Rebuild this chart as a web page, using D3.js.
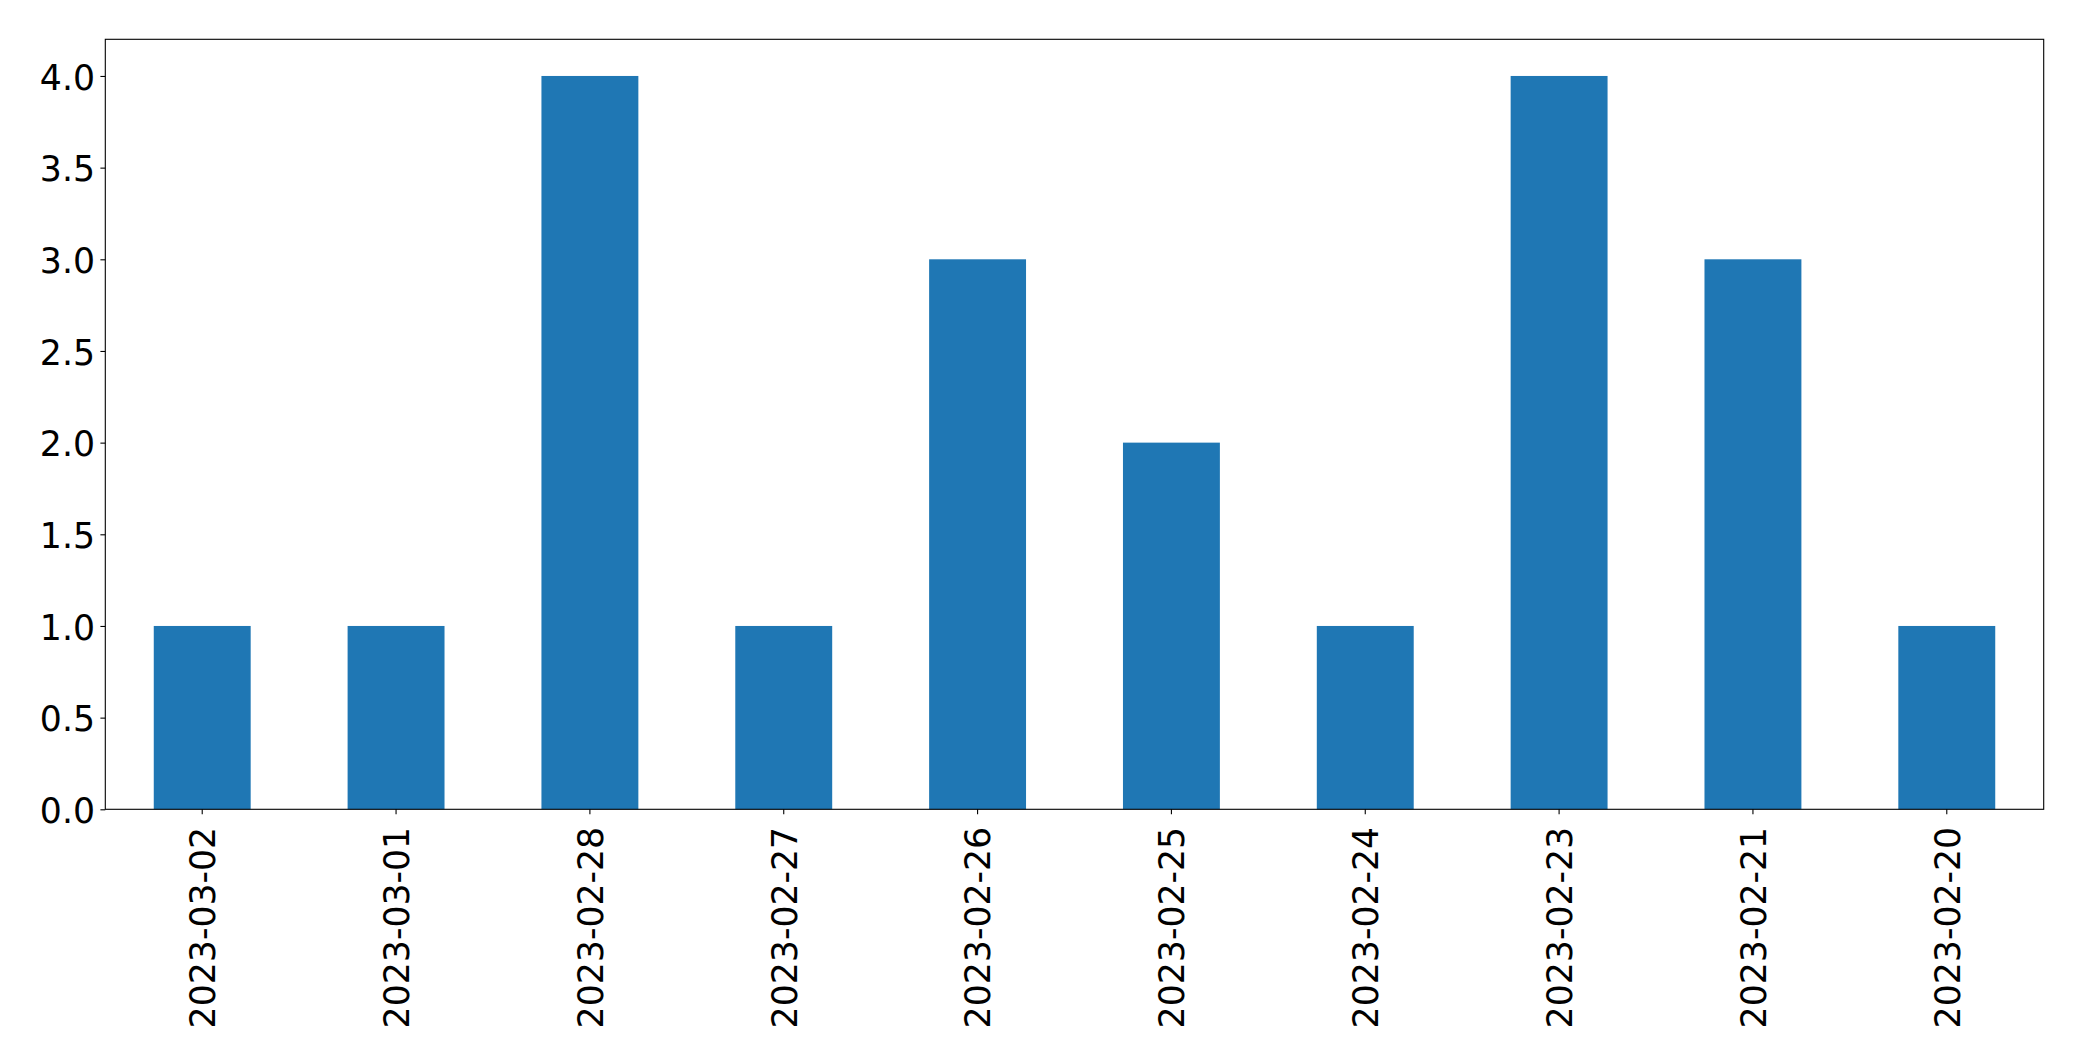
<!DOCTYPE html>
<html>
<head>
<meta charset="utf-8">
<script src="https://cdn.jsdelivr.net/npm/d3@7"></script>
<style>
  html, body { margin: 0; padding: 0; background: #ffffff; }
  svg { display: block; }
</style>
</head>
<body>
<svg id="chart" width="2082" height="1061"></svg>
<script>
const categories = ["2023-03-02","2023-03-01","2023-02-28","2023-02-27","2023-02-26","2023-02-25","2023-02-24","2023-02-23","2023-02-21","2023-02-20"];
const values = [1, 1, 4, 1, 3, 2, 1, 4, 3, 1];
const yTicks = [0, 0.5, 1, 1.5, 2, 2.5, 3, 3.5, 4];

const W = 2082, H = 1061;
const mLeft = 105.3, mRight = 2043.7, mTop = 39.3, mBottom = 809.3;
const fontSize = 34.7;
const font = "'DejaVu Sans', sans-serif";
const barColor = "#1f77b4";
const tickLen = 4.9;

const svg = d3.select("#chart");
svg.append("rect").attr("width", W).attr("height", H).attr("fill", "#ffffff");

const x = d3.scaleBand().domain(categories).range([mLeft, mRight]).paddingInner(0.5).paddingOuter(0.25);
const y = d3.scaleLinear().domain([0, 4.2]).range([mBottom, mTop]);

// bars
svg.append("g").selectAll("rect").data(values).join("rect")
  .attr("x", (d, i) => x(categories[i]))
  .attr("width", x.bandwidth())
  .attr("y", d => y(d))
  .attr("height", d => y(0) - y(d))
  .attr("fill", barColor);

// y axis
const yAxis = d3.axisLeft(y).tickValues(yTicks).tickFormat(d3.format(".1f")).tickSize(tickLen).tickPadding(0);
const gy = svg.append("g").attr("transform", `translate(${mLeft},0)`).call(yAxis);
gy.select(".domain").remove();
gy.selectAll(".tick line").attr("stroke", "#000").attr("stroke-width", 1.1);
gy.selectAll(".tick text")
  .attr("x", -10.3)
  .attr("dy", null)
  .attr("y", 13.3)
  .attr("fill", "#000")
  .style("font-family", font)
  .style("font-size", fontSize + "px")
  .attr("text-anchor", "end");

// x axis
const xAxis = d3.axisBottom(x).tickSize(tickLen).tickPadding(0);
const gx = svg.append("g").attr("transform", `translate(0,${mBottom})`).call(xAxis);
gx.select(".domain").remove();
gx.selectAll(".tick line").attr("stroke", "#000").attr("stroke-width", 1.1);
gx.selectAll(".tick text")
  .attr("x", null).attr("y", null).attr("dy", null)
  .attr("transform", "translate(12.8,17.5) rotate(-90)")
  .attr("text-anchor", "end")
  .attr("fill", "#000")
  .style("font-family", font)
  .style("font-size", fontSize + "px");

// frame (spines)
svg.append("rect")
  .attr("x", mLeft).attr("y", mTop)
  .attr("width", mRight - mLeft).attr("height", mBottom - mTop)
  .attr("fill", "none").attr("stroke", "#000").attr("stroke-width", 1.1);
</script>
</body>
</html>
